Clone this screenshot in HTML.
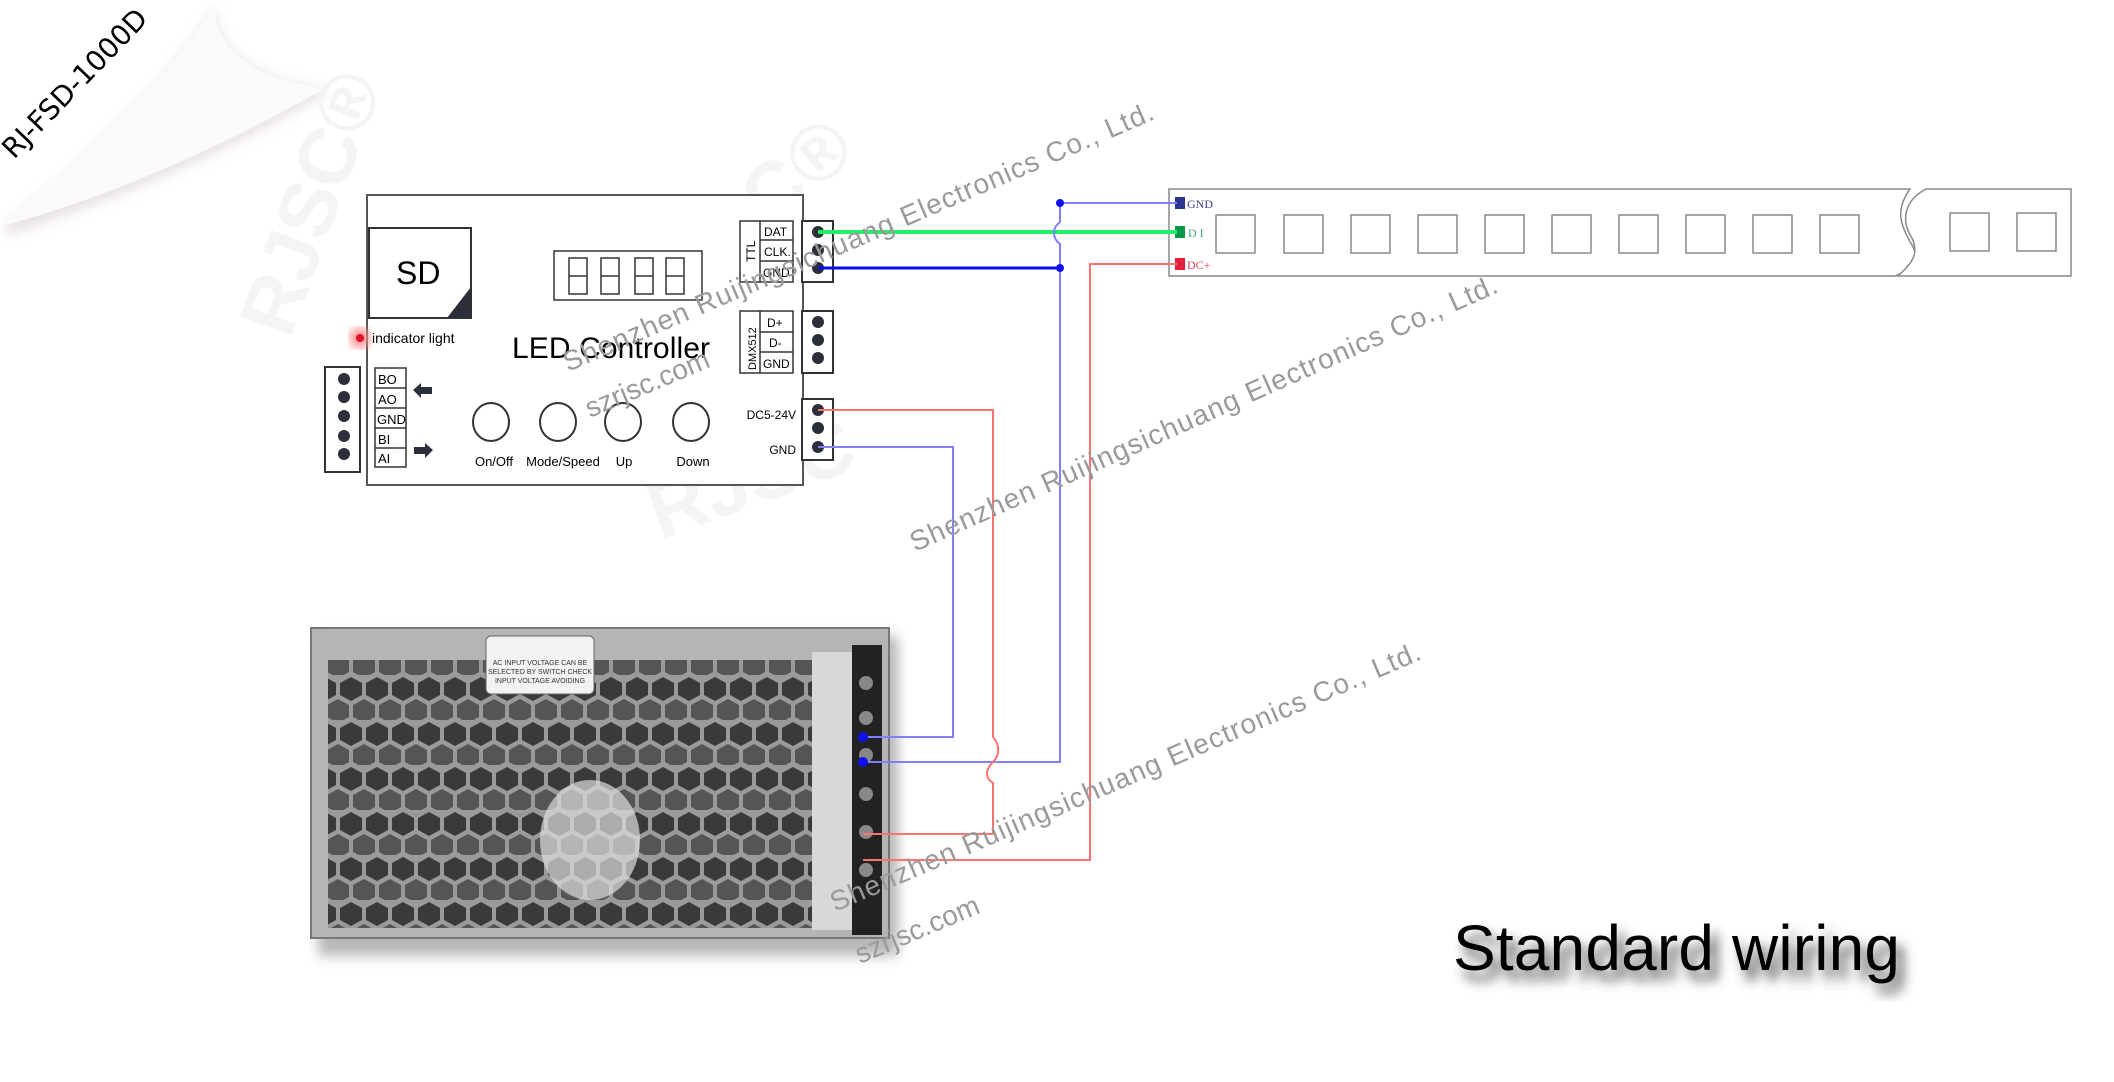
<!DOCTYPE html>
<html><head><meta charset="utf-8"><style>
html,body{margin:0;padding:0;background:#fff;}
svg{display:block;font-family:"Liberation Sans",sans-serif;}
</style></head><body>
<svg width="2114" height="1082" viewBox="0 0 2114 1082" xmlns="http://www.w3.org/2000/svg">
<defs>
<filter id="blur6"><feGaussianBlur stdDeviation="6"/></filter>
<filter id="glow"><feGaussianBlur stdDeviation="5"/></filter>
<pattern id="hex" width="26" height="45" patternUnits="userSpaceOnUse">
<rect width="26" height="45" fill="#9a9a9a"/>
<polygon points="13,2 24,8 24,20 13,26 2,20 2,8" fill="#3a3a3a"/>
<polygon points="0,24 11,30 11,42 0,48 -11,42 -11,30" fill="#555"/>
<polygon points="26,24 37,30 37,42 26,48 15,42 15,30" fill="#555"/>
</pattern>
</defs>

<path d="M5,225 C100,150 180,70 215,5 C215,40 240,80 330,90 C250,140 120,200 5,235 Z" fill="#e8e0e0" filter="url(#blur6)"/>
<path d="M5,218 C100,145 180,65 215,3 C213,40 240,78 325,88 C245,135 120,195 5,225 Z" fill="#fafafa"/>
<text x="0" y="0" font-size="28" fill="#000" transform="translate(14,160) rotate(-46)" style="font-family:'DejaVu Sans',sans-serif">RJ-FSD-1000D</text>

<g fill="#f4f4f4" font-size="80" font-weight="bold">
<text transform="translate(290,340) rotate(-70)">RJSC®</text>
<text transform="translate(650,330) rotate(-40)">RJSC®</text>
<text transform="translate(660,540) rotate(-20)">RJSC</text>
</g>

<rect x="367" y="195" width="436" height="290" fill="#fff" stroke="#555" stroke-width="2"/>
<rect x="369" y="228" width="102" height="90" fill="#fff" stroke="#333" stroke-width="2"/>
<polygon points="471,287 471,318 447,318" fill="#2b2f3a"/>
<text x="396" y="284" font-size="32" fill="#000">SD</text>
<rect x="554" y="251" width="148" height="49" fill="#fff" stroke="#333" stroke-width="1.5"/>
<g fill="none" stroke="#333" stroke-width="1.5">
<rect x="569" y="258" width="18" height="36"/><line x1="569" y1="276" x2="587" y2="276"/>
<rect x="601" y="258" width="18" height="36"/><line x1="601" y1="276" x2="619" y2="276"/>
<rect x="635" y="258" width="18" height="36"/><line x1="635" y1="276" x2="653" y2="276"/>
<rect x="666" y="258" width="18" height="36"/><line x1="666" y1="276" x2="684" y2="276"/>
</g>
<circle cx="360" cy="338" r="10" fill="#ff8a8a" filter="url(#glow)"/>
<circle cx="360" cy="338" r="4" fill="#e0102a"/>
<text x="372" y="343" font-size="14" fill="#000">indicator light</text>
<text x="512" y="358" font-size="30" fill="#000" textLength="198">LED Controller</text>

<rect x="325" y="367" width="35" height="105" fill="#fff" stroke="#333" stroke-width="2"/>
<g fill="#2b2f3a"><circle cx="344" cy="379" r="6"/><circle cx="344" cy="397" r="6"/><circle cx="344" cy="416" r="6"/><circle cx="344" cy="436" r="6"/><circle cx="344" cy="454" r="6"/></g>
<rect x="375" y="368" width="31" height="99" fill="#fff" stroke="#333" stroke-width="1.5"/>
<g stroke="#333" stroke-width="1.5"><line x1="375" y1="388" x2="406" y2="388"/><line x1="375" y1="408" x2="406" y2="408"/><line x1="375" y1="428" x2="406" y2="428"/><line x1="375" y1="448" x2="406" y2="448"/></g>
<g font-size="13" fill="#000"><text x="378" y="384">BO</text><text x="378" y="404">AO</text><text x="377" y="424">GND</text><text x="378" y="444">BI</text><text x="378" y="463">AI</text></g>
<polygon points="413,390 421,383 421,387 432,387 432,394 421,394 421,398" fill="#2b2f3a"/>
<polygon points="433,450 425,443 425,447 414,447 414,454 425,454 425,458" fill="#2b2f3a"/>

<g fill="#fff" stroke="#333" stroke-width="2">
<ellipse cx="491" cy="422" rx="18" ry="19"/><ellipse cx="558" cy="422" rx="18" ry="19"/><ellipse cx="623" cy="422" rx="18" ry="19"/><ellipse cx="691" cy="422" rx="18" ry="19"/>
</g>
<g font-size="13" fill="#000" text-anchor="middle"><text x="494" y="466">On/Off</text><text x="563" y="466">Mode/Speed</text><text x="624" y="466">Up</text><text x="693" y="466">Down</text></g>

<rect x="740" y="221" width="53" height="61" fill="#fff" stroke="#333" stroke-width="1.5"/>
<line x1="760" y1="221" x2="760" y2="282" stroke="#333" stroke-width="1.5"/>
<line x1="760" y1="240" x2="793" y2="240" stroke="#333" stroke-width="1.5"/>
<line x1="760" y1="261" x2="793" y2="261" stroke="#333" stroke-width="1.5"/>
<g font-size="12" fill="#000"><text x="764" y="236">DAT</text><text x="764" y="256">CLK.</text><text x="763" y="277">GND</text></g>
<text font-size="12" transform="translate(755,262) rotate(-90)">TTL</text>
<rect x="802" y="221" width="31" height="61" fill="#fff" stroke="#333" stroke-width="2"/>
<g fill="#2b2f3a"><circle cx="818" cy="232" r="6"/><circle cx="818" cy="250" r="6"/><circle cx="818" cy="268" r="6"/></g>

<rect x="740" y="311" width="53" height="62" fill="#fff" stroke="#333" stroke-width="1.5"/>
<line x1="760" y1="311" x2="760" y2="373" stroke="#333" stroke-width="1.5"/>
<line x1="760" y1="332" x2="793" y2="332" stroke="#333" stroke-width="1.5"/>
<line x1="760" y1="352" x2="793" y2="352" stroke="#333" stroke-width="1.5"/>
<g font-size="12" fill="#000"><text x="767" y="327">D+</text><text x="769" y="347">D-</text><text x="763" y="368">GND</text></g>
<text font-size="11" transform="translate(756,370) rotate(-90)">DMX512</text>
<rect x="802" y="311" width="31" height="62" fill="#fff" stroke="#333" stroke-width="2"/>
<g fill="#2b2f3a"><circle cx="818" cy="322" r="6"/><circle cx="818" cy="340" r="6"/><circle cx="818" cy="358" r="6"/></g>

<rect x="802" y="399" width="31" height="61" fill="#fff" stroke="#333" stroke-width="2"/>
<g fill="#2b2f3a"><circle cx="818" cy="410" r="6"/><circle cx="818" cy="428" r="6"/><circle cx="818" cy="447" r="6"/></g>
<g font-size="12" fill="#000" text-anchor="end"><text x="796" y="419">DC5-24V</text><text x="796" y="454">GND</text></g>

<path d="M1169,189 L1910,189 C1895,210 1900,225 1912,245 C1922,262 1905,272 1895,276 L1169,276 Z" fill="#fff" stroke="#888" stroke-width="1.5"/>
<path d="M1926,189 L2071,189 L2071,276 L1898,276 C1910,265 1920,255 1912,238 C1900,220 1905,200 1926,189 Z" fill="#fff" stroke="#888" stroke-width="1.5"/>
<g fill="#fff" stroke="#888" stroke-width="1.5">
<rect x="1216" y="215" width="39" height="38"/><rect x="1284" y="215" width="39" height="38"/><rect x="1351" y="215" width="39" height="38"/><rect x="1418" y="215" width="39" height="38"/><rect x="1485" y="215" width="39" height="38"/><rect x="1552" y="215" width="39" height="38"/><rect x="1619" y="215" width="39" height="38"/><rect x="1686" y="215" width="39" height="38"/><rect x="1753" y="215" width="39" height="38"/><rect x="1820" y="215" width="39" height="38"/>
<rect x="1950" y="213" width="39" height="38"/><rect x="2017" y="213" width="39" height="38"/>
</g>
<rect x="1175" y="197" width="10" height="12" fill="#2a3590"/>
<rect x="1175" y="226" width="10" height="12" fill="#0a9a4a"/>
<rect x="1175" y="258" width="10" height="12" fill="#e0203a"/>
<g font-size="12" style="font-family:'Liberation Serif',serif"><text x="1187" y="208" fill="#3a3f95">GND</text><text x="1188" y="237" fill="#3aaa7a">D I</text><text x="1187" y="269" fill="#e0405a">DC+</text></g>

<rect x="318" y="636" width="580" height="320" fill="#999" filter="url(#blur6)" opacity="0.7"/>
<rect x="311" y="628" width="578" height="310" fill="#b5b5b5" stroke="#777" stroke-width="2"/>
<rect x="328" y="660" width="492" height="268" fill="url(#hex)"/>
<ellipse cx="590" cy="840" rx="50" ry="60" fill="#ddd" opacity="0.7"/>
<rect x="486" y="636" width="108" height="58" rx="5" fill="#f2f2f2" stroke="#666"/>
<g font-size="7" fill="#333" text-anchor="middle"><text x="540" y="665">AC INPUT VOLTAGE CAN BE</text><text x="540" y="674">SELECTED BY SWITCH CHECK</text><text x="540" y="683">INPUT VOLTAGE AVOIDING</text></g>
<rect x="812" y="652" width="40" height="278" fill="#d8d8d8"/>
<rect x="852" y="645" width="30" height="290" fill="#222"/>
<g fill="#888"><circle cx="866" cy="683" r="7"/><circle cx="866" cy="718" r="7"/><circle cx="866" cy="755" r="7"/><circle cx="866" cy="794" r="7"/><circle cx="866" cy="832" r="7"/><circle cx="866" cy="870" r="7"/></g>

<g fill="none" stroke-width="2">
<line x1="818" y1="232" x2="1177" y2="232" stroke="#22ee66" stroke-width="4"/>
<line x1="818" y1="268" x2="1060" y2="268" stroke="#0a0aee" stroke-width="3"/>
<path d="M1177,203 L1060,203 L1060,222 C1052,228 1052,238 1060,244 L1060,762 L863,762" stroke="#7f7fff"/>
<path d="M818,410 L993,410 L993,737 C1000,745 1000,755 993,762 C985,770 985,778 993,783 L993,834 L863,834" stroke="#ff7070"/>
<path d="M818,447 L953,447 L953,737 L863,737" stroke="#7f7fff"/>
<path d="M1177,264 L1090,264 L1090,860 L863,860" stroke="#ff7070"/>
</g>
<g fill="#1010ee"><circle cx="1060" cy="203" r="4"/><circle cx="1060" cy="268" r="4"/><circle cx="863" cy="737" r="5"/><circle cx="863" cy="762" r="5"/></g>

<g fill="#9a9a9a" font-size="28">
<text transform="translate(568,372) rotate(-23.3)" textLength="640">Shenzhen Ruijingsichuang Electronics Co., Ltd.</text>
<text transform="translate(915,552) rotate(-24)" textLength="640">Shenzhen Ruijingsichuang Electronics Co., Ltd.</text>
<text transform="translate(835,912) rotate(-23.3)" textLength="640">Shenzhen Ruijingsichuang Electronics Co., Ltd.</text>
<text transform="translate(590,418) rotate(-23)">szrjsc.com</text>
<text transform="translate(860,964) rotate(-23)">szrjsc.com</text>
</g>

<text x="1460" y="980" font-size="64" fill="#444" filter="url(#blur6)" textLength="447">Standard wiring</text>
<text x="1453" y="970" font-size="64" fill="#000" textLength="447">Standard wiring</text>
</svg>
</body></html>
